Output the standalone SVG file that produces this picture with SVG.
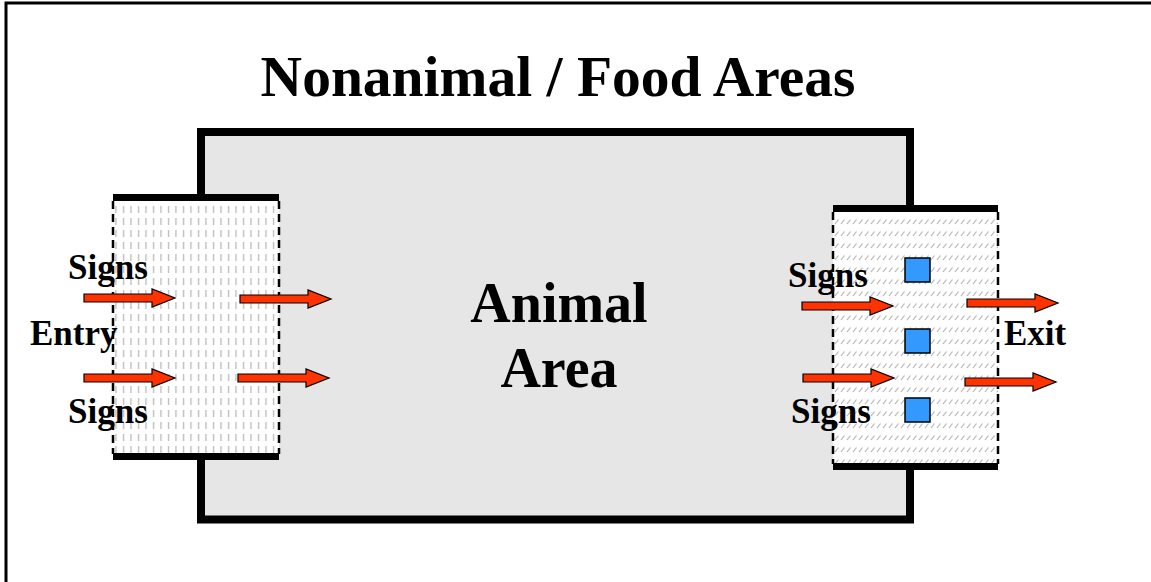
<svg xmlns="http://www.w3.org/2000/svg" width="1151" height="582" viewBox="0 0 1151 582">
<style>
.t{font-family:"Liberation Serif","Times New Roman",serif;font-weight:bold;fill:#000}
.bar{stroke:#000;stroke-width:7;fill:none}
.dash{stroke:#000;stroke-width:2.5;stroke-dasharray:8 5;fill:none}
.sq{fill:#3399ff;stroke:#000;stroke-width:1.5}
</style>
<defs>
<pattern id="vdash" x="0" y="0" width="7.5" height="12" patternUnits="userSpaceOnUse">
<rect width="7.5" height="12" fill="#fff"/>
<line x1="3.5" y1="2" x2="3.5" y2="9" stroke="#b5b5b5" stroke-width="1.2"/>
</pattern>
<pattern id="hatch" x="0" y="0" width="6" height="12" patternUnits="userSpaceOnUse">
<rect width="6" height="12" fill="#fff"/>
<line x1="1" y1="8" x2="4.5" y2="3.5" stroke="#b5b5b5" stroke-width="1.2"/>
</pattern>
<path id="arr" d="M0,-4 L68,-4 L68,-9 L91,0 L68,9 L68,4 L0,4 Z" fill="#ff3300" stroke="#000" stroke-width="1.2" stroke-linejoin="miter"/>
</defs>
<rect x="6" y="3" width="1200" height="700" fill="#fff" stroke="#000" stroke-width="3"/>
<text class="t" x="558" y="96" font-size="57.5" text-anchor="middle">Nonanimal / Food Areas</text>
<g id="animal-area">
<rect x="201" y="132" width="709" height="387.5" fill="#e6e6e6" stroke="#000" stroke-width="8"/>
<text class="t" x="559" y="322" font-size="56" text-anchor="middle">Animal</text>
<text class="t" x="559" y="387" font-size="56" text-anchor="middle">Area</text>
</g>
<g id="entry-zone">
<rect x="113" y="197.5" width="166" height="259" fill="url(#vdash)"/>
<line class="dash" x1="113" y1="201" x2="113" y2="454"/>
<line class="dash" x1="279" y1="201" x2="279" y2="454"/>
<line class="bar" x1="113" y1="197.5" x2="279" y2="197.5"/>
<line class="bar" x1="113" y1="456.5" x2="279" y2="456.5"/>
<text class="t" x="68" y="279" font-size="35">Signs</text>
<text class="t" x="30" y="345" font-size="35">Entry</text>
<text class="t" x="68" y="423" font-size="35">Signs</text>
</g>
<g id="exit-zone">
<rect x="833" y="208.5" width="165" height="258" fill="url(#hatch)"/>
<line class="dash" x1="833" y1="212" x2="833" y2="464"/>
<line class="dash" x1="998" y1="212" x2="998" y2="464"/>
<line class="bar" x1="833" y1="208.5" x2="998" y2="208.5"/>
<line class="bar" x1="833" y1="466.5" x2="998" y2="466.5"/>
<rect class="sq" x="905" y="258" width="25" height="24"/>
<rect class="sq" x="905" y="329" width="25" height="24"/>
<rect class="sq" x="905" y="398" width="25" height="24"/>
<text class="t" x="788" y="287" font-size="35">Signs</text>
<text class="t" x="791" y="423" font-size="35">Signs</text>
<text class="t" x="1004" y="345" font-size="35">Exit</text>
</g>
<g id="connectors">
<use href="#arr" transform="translate(84,298)"/>
<use href="#arr" transform="translate(240,299)"/>
<use href="#arr" transform="translate(84,378)"/>
<use href="#arr" transform="translate(238,378)"/>
<use href="#arr" transform="translate(802,306)"/>
<use href="#arr" transform="translate(803,378)"/>
<use href="#arr" transform="translate(967,303)"/>
<use href="#arr" transform="translate(965,382)"/>
</g>
</svg>
